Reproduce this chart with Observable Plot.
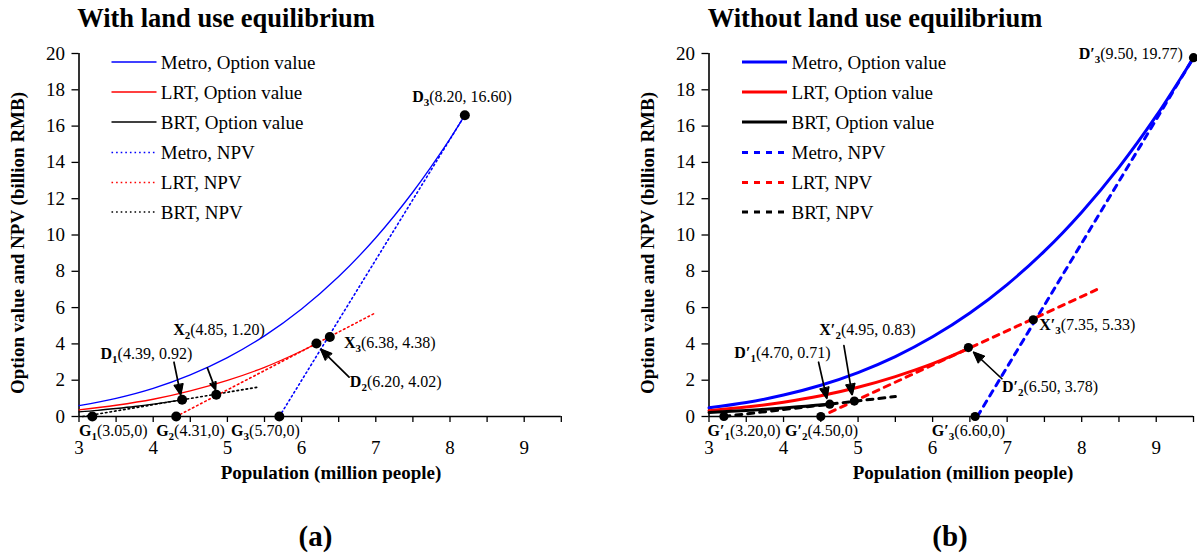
<!DOCTYPE html>
<html><head><meta charset="utf-8">
<script src="https://cdn.jsdelivr.net/npm/d3@7"></script>
<script src="https://cdn.jsdelivr.net/npm/@observablehq/plot@0.6"></script>
<style>
body{margin:0;background:#fff;}
#wrap{position:relative;width:1197px;height:558px;overflow:hidden;background:#fff;font-family:"Liberation Serif","Times New Roman",serif;}
#wrap > svg{position:absolute;top:0;}
</style></head><body><div id="wrap"></div>
<script>
// ---------- shared ----------
const xTicks = [3, 3.5, 4, 4.5, 5, 5.5, 6, 6.5, 7, 7.5, 8, 8.5, 9, 9.5];
const yTicks = [0, 2, 4, 6, 8, 10, 12, 14, 16, 18, 20];
const seriesNames = ["Metro, Option value", "LRT, Option value", "BRT, Option value", "Metro, NPV", "LRT, NPV", "BRT, NPV"];
const seriesColors = ["#0000ff", "#ff0000", "#000000", "#0000ff", "#ff0000", "#000000"];
const titles = ["With land use equilibrium", "Without land use equilibrium"];
const panelTags = ["(a)", "(b)"];
const xLabel = "Population (million people)";
const yLabel = "Option value and NPV (billion RMB)";

// ---------- panel (a): with land use equilibrium ----------
const metroOptA_x = [3, 3.5, 4, 4.5, 5, 5.5, 6, 6.5, 7, 7.5, 8, 8.2];
const metroOptA_y = [0.60, 1.00, 1.55, 2.29, 3.24, 4.44, 5.92, 7.71, 9.85, 12.37, 15.30, 16.60];
const lrtOptA_x = [3, 3.5, 4, 4.5, 5, 5.5, 6, 6.2];
const lrtOptA_y = [0.37, 0.62, 0.95, 1.41, 1.99, 2.71, 3.61, 4.02];
const brtOptA_x = [3, 3.25, 3.5, 3.75, 4, 4.2, 4.39];
const brtOptA_y = [0.26, 0.34, 0.44, 0.55, 0.68, 0.80, 0.92];
const metroNpvA_x = [5.70, 8.20];
const metroNpvA_y = [0, 16.60];
const lrtNpvA_x = [4.31, 7.00];
const lrtNpvA_y = [0, 5.72];
const brtNpvA_x = [3.05, 5.40];
const brtNpvA_y = [0, 1.61];
const pointsA_label = ["G|1|(3.05,0)", "G|2|(4.31,0)", "G|3|(5.70,0)", "D|1|(4.39, 0.92)", "D|2|(6.20, 4.02)", "D|3|(8.20, 16.60)", "X|2|(4.85, 1.20)", "X|3|(6.38, 4.38)"];
const pointsA_x = [3.18, 4.31, 5.70, 4.39, 6.20, 8.20, 4.85, 6.38];
const pointsA_y = [0, 0, 0, 0.92, 4.02, 16.60, 1.20, 4.38];

// ---------- panel (b): without land use equilibrium ----------
const metroOptB_x = [3, 3.5, 4, 4.5, 5, 5.5, 6, 6.5, 7, 7.5, 8, 8.5, 9, 9.5];
const metroOptB_y = [0.48, 0.77, 1.18, 1.72, 2.42, 3.30, 4.39, 5.70, 7.27, 9.11, 11.26, 13.73, 16.56, 19.77];
const lrtOptB_x = [3, 3.5, 4, 4.5, 5, 5.5, 6, 6.5];
const lrtOptB_y = [0.32, 0.52, 0.79, 1.14, 1.61, 2.20, 2.91, 3.78];
const brtOptB_x = [3, 3.5, 4, 4.3, 4.62];
const brtOptB_y = [0.22, 0.33, 0.47, 0.57, 0.68];
const metroNpvB_x = [6.60, 9.50];
const metroNpvB_y = [0, 19.77];
const lrtNpvB_x = [4.62, 8.20];
const lrtNpvB_y = [0.23, 6.99];
const brtNpvB_x = [3.20, 5.50];
const brtNpvB_y = [0, 1.10];
const pointsB_label = ["G′|1|(3.20,0)", "G′|2|(4.50,0)", "G′|3|(6.60,0)", "D′|1|(4.70, 0.71)", "D′|2|(6.50, 3.78)", "D′|3|(9.50, 19.77)", "X′|2|(4.95, 0.83)", "X′|3|(7.35, 5.33)"];
const pointsB_x = [3.20, 4.50, 6.57, 4.62, 6.48, 9.50, 4.95, 7.35];
const pointsB_y = [0, 0, 0, 0.68, 3.80, 19.77, 0.85, 5.33];

// ---------- layout (annotation placement in data units) ----------
const labelPosA = [[3.0, -0.77], [4.04, -0.77], [5.05, -0.77], [3.29, 3.44], [6.65, 1.89], [7.49, 17.59], [4.27, 4.78], [6.57, 4.04]];
const arrowsA = [[4.28, 2.99, 4.37, 1.20], [4.73, 2.68, 4.84, 1.48], [6.64, 2.17, 6.26, 3.70]];
const labelPosB = [[2.98, -0.77], [4.02, -0.77], [5.99, -0.77], [3.34, 3.49], [6.93, 1.61], [7.96, 19.98], [4.48, 4.78], [7.43, 5.05]];
const arrowsB = [[4.47, 2.99, 4.58, 1.00], [4.81, 3.91, 4.92, 1.20], [6.93, 2.08, 6.55, 3.54]];

const zip = (xs, ys) => xs.map((x, i) => ({x, y: ys[i]}));
const NS = "http://www.w3.org/2000/svg";

function richify(svg) {
  svg.querySelectorAll("g.ann text").forEach(t => {
    const parts = t.textContent.split("|");
    t.textContent = "";
    const a = document.createElementNS(NS, "tspan");
    a.setAttribute("font-weight", "bold"); a.textContent = parts[0];
    const b = document.createElementNS(NS, "tspan");
    b.setAttribute("font-weight", "bold"); b.setAttribute("font-size", "11px"); b.setAttribute("dy", "4"); b.textContent = parts[1];
    const c = document.createElementNS(NS, "tspan");
    c.setAttribute("dy", "-4"); c.textContent = parts[2];
    t.append(a, b, c);
  });
  // fill the arrow heads (Plot draws them as open chevrons)
  svg.querySelectorAll("g.arr path").forEach(p => {
    const d = p.getAttribute("d") || "";
    const segs = d.split("M").filter(s => s.trim().length);
    if (segs.length >= 2) {
      const head = document.createElementNS(NS, "path");
      head.setAttribute("d", "M" + segs[segs.length - 1] + "Z");
      head.setAttribute("fill", "black");
      head.setAttribute("stroke", "black");
      head.setAttribute("stroke-width", "1");
      p.parentNode.appendChild(head);
    }
  });
}

function panel(opts) {
  const {left, width, marginRight, opt, npv, labels, px, py, lpos, arrows, sty} = opts;
  const pts = px.map((x, i) => ({x, y: py[i], text: labels[i], lx: lpos[i][0], ly: lpos[i][1]}));
  const arr = arrows.map(a => ({x1: a[0], y1: a[1], x2: a[2], y2: a[3]}));
  const marks = [
    Plot.axisX({ticks: xTicks, tickFormat: d => Number.isInteger(d) ? String(d) : "", tickSize: 6, tickPadding: 18, label: null, strokeWidth: 1.3}),
    Plot.axisY({ticks: yTicks, tickSize: 7, tickPadding: 7, label: null, strokeWidth: 1.3}),
    Plot.ruleX([3], {y1: 0, y2: 20, strokeWidth: 1.6}),
    Plot.ruleY([0], {x1: 3, x2: 9.5, strokeWidth: 1.6})
  ];
  npv.forEach((d, i) => marks.push(Plot.line(d, {x: "x", y: "y", stroke: seriesColors[i + 3], strokeWidth: sty.npvW, strokeDasharray: sty.dash})));
  opt.forEach((d, i) => marks.push(Plot.line(d, {x: "x", y: "y", stroke: seriesColors[i], strokeWidth: sty.optW, curve: "catmull-rom"})));
  marks.push(Plot.arrow(arr, {x1: "x1", y1: "y1", x2: "x2", y2: "y2", stroke: "black", strokeWidth: 1.7, headLength: 10, headAngle: 45, className: "arr"}));
  marks.push(Plot.dot(pts, {x: "x", y: "y", r: sty.r, fill: "black"}));
  marks.push(Plot.text(pts, {x: "lx", y: "ly", text: "text", textAnchor: "start", lineAnchor: "middle", fontSize: 16, fill: "black", className: "ann"}));
  const svg = Plot.plot({
    width, height: 470, marginLeft: 78.5, marginRight, marginTop: 53, marginBottom: 54,
    x: {domain: [3, 9.5]}, y: {domain: [0, 20]},
    style: {fontFamily: "'Liberation Serif', 'Times New Roman', serif", fontSize: "19px", color: "#000", background: "transparent", overflow: "visible"},
    marks
  });
  richify(svg);
  svg.style.left = left + "px";
  document.getElementById("wrap").appendChild(svg);
}

const styA = {optW: 1.3, npvW: 1.6, dash: "1.6,3", r: 5};
const styB = {optW: 3, npvW: 3, dash: "6,6", r: 4.6};

panel({left: 0, width: 600, marginRight: 39.2,
  opt: [zip(metroOptA_x, metroOptA_y), zip(lrtOptA_x, lrtOptA_y), zip(brtOptA_x, brtOptA_y)],
  npv: [zip(metroNpvA_x, metroNpvA_y), zip(lrtNpvA_x, lrtNpvA_y), zip(brtNpvA_x, brtNpvA_y)],
  labels: pointsA_label, px: pointsA_x, py: pointsA_y, lpos: labelPosA, arrows: arrowsA, sty: styA});

panel({left: 630, width: 567, marginRight: 4,
  opt: [zip(metroOptB_x, metroOptB_y), zip(lrtOptB_x, lrtOptB_y), zip(brtOptB_x, brtOptB_y)],
  npv: [zip(metroNpvB_x, metroNpvB_y), zip(lrtNpvB_x, lrtNpvB_y), zip(brtNpvB_x, brtNpvB_y)],
  labels: pointsB_label, px: pointsB_x, py: pointsB_y, lpos: labelPosB, arrows: arrowsB, sty: styB});

// ---------- overlay: titles, axis titles, legends, panel tags ----------
const ov = d3.select("#wrap").append("svg").attr("width", 1197).attr("height", 558)
  .style("left", "0px").style("pointer-events", "none")
  .attr("font-family", "'Liberation Serif', 'Times New Roman', serif");
const panelsGeo = [
  {tx: 226, yx: 17, xx: 331, tagx: 315.5, lg0: 111.5, lg1: 156.5, lt: 160.8, sty: styA},
  {tx: 875, yx: 647, xx: 963, tagx: 950, lg0: 742, lg1: 787, lt: 791.5, sty: styB}
];
const legendRows = [62, 92, 122, 152.5, 182.5, 212];
panelsGeo.forEach((g, p) => {
  ov.append("text").attr("x", g.tx).attr("y", 27).attr("text-anchor", "middle").attr("font-weight", "bold").attr("font-size", 26.5).text(titles[p]);
  ov.append("text").attr("transform", `translate(${g.yx},243) rotate(-90)`).attr("text-anchor", "middle").attr("dy", "0.35em").attr("font-weight", "bold").attr("font-size", 19).text(yLabel);
  ov.append("text").attr("x", g.xx).attr("y", 479).attr("text-anchor", "middle").attr("font-weight", "bold").attr("font-size", 19).text(xLabel);
  ov.append("text").attr("x", g.tagx).attr("y", 546).attr("text-anchor", "middle").attr("font-weight", "bold").attr("font-size", 29).text(panelTags[p]);
  seriesNames.forEach((name, i) => {
    const y = legendRows[i];
    ov.append("line").attr("x1", g.lg0).attr("x2", g.lg1).attr("y1", y).attr("y2", y)
      .attr("stroke", seriesColors[i]).attr("stroke-width", i < 3 ? g.sty.optW : g.sty.npvW)
      .attr("stroke-dasharray", i < 3 ? null : g.sty.dash);
    ov.append("text").attr("x", g.lt).attr("y", y).attr("dy", "0.35em").attr("font-size", 19).text(name);
  });
});
</script>
</body></html>
